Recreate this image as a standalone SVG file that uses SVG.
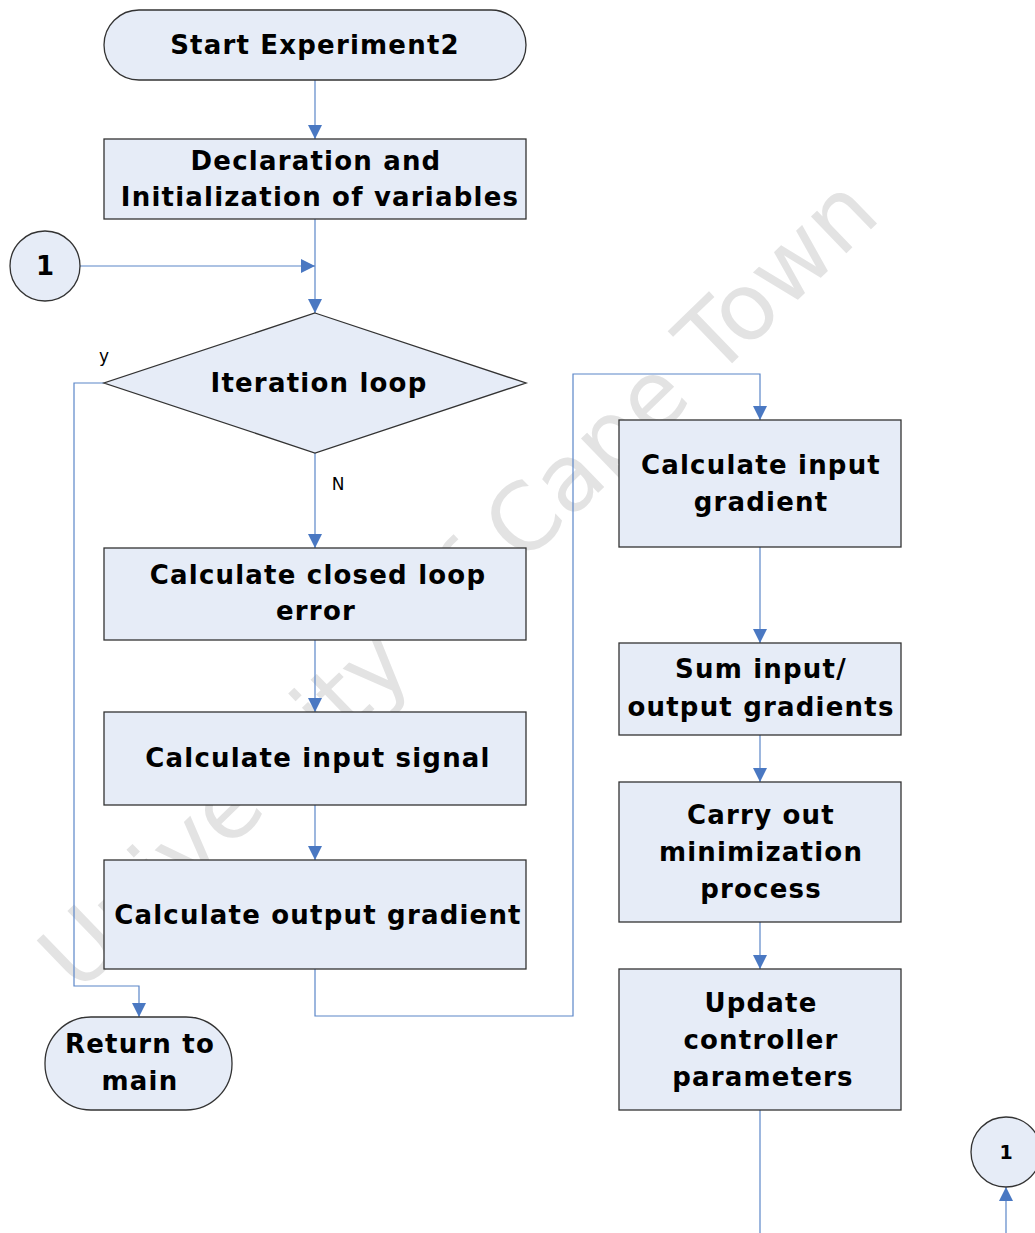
<svg xmlns="http://www.w3.org/2000/svg" width="1035" height="1233" viewBox="0 0 1035 1233">
<defs>
<marker id="arr" viewBox="0 0 10 10" refX="10" refY="5" markerWidth="14" markerHeight="14" markerUnits="userSpaceOnUse" orient="auto">
<path d="M0,0 L10,5 L0,10 z" fill="#4a78c2"/>
</marker>
<style>
.box{fill:#e6ecf7;stroke:#333;stroke-width:1.3}
.t{font-family:"DejaVu Sans",Verdana,sans-serif;font-weight:bold;font-size:26px;letter-spacing:1.2px;fill:#000;text-anchor:middle;dominant-baseline:central}
.lbl{font-family:"DejaVu Sans",Verdana,sans-serif;font-size:17px;fill:#000;text-anchor:middle;dominant-baseline:central}
.c{fill:none;stroke:#5b86c8;stroke-width:1.2}
.wm{font-family:"DejaVu Sans",Verdana,sans-serif;font-size:93px;fill:#e3e3e3}
</style>
</defs>
<rect width="1035" height="1233" fill="#fff"/>
<text class="wm" transform="translate(78,995) rotate(-44)">University of Cape Town</text>
<g id="connectors">
<line class="c" x1="315" y1="80" x2="315" y2="139" marker-end="url(#arr)"/>
<line class="c" x1="315" y1="219" x2="315" y2="313" marker-end="url(#arr)"/>
<line class="c" x1="80" y1="266" x2="315" y2="266" marker-end="url(#arr)"/>
<polyline class="c" points="104,383 74,383 74,986 139,986 139,1017" marker-end="url(#arr)"/>
<line class="c" x1="315" y1="453" x2="315" y2="548" marker-end="url(#arr)"/>
<line class="c" x1="315" y1="640" x2="315" y2="712" marker-end="url(#arr)"/>
<line class="c" x1="315" y1="805" x2="315" y2="860" marker-end="url(#arr)"/>
<polyline class="c" points="315,969 315,1016 573,1016 573,374 760,374 760,420" marker-end="url(#arr)"/>
<line class="c" x1="760" y1="547" x2="760" y2="643" marker-end="url(#arr)"/>
<line class="c" x1="760" y1="735" x2="760" y2="782" marker-end="url(#arr)"/>
<line class="c" x1="760" y1="922" x2="760" y2="969" marker-end="url(#arr)"/>
<line class="c" x1="760" y1="1110" x2="760" y2="1233"/>
<line class="c" x1="1006" y1="1233" x2="1006" y2="1187" marker-end="url(#arr)"/>
<text class="lbl" x="104" y="356">y</text>
<text class="lbl" x="338" y="484">N</text>
</g>
<g id="start">
<rect class="box" x="104" y="10" width="422" height="70" rx="35"/>
<text class="t" x="315" y="45">Start Experiment2</text>
</g>
<g id="declare">
<rect class="box" x="104" y="139" width="422" height="80"/>
<text class="t" x="316" y="161">Declaration and</text>
<text class="t" x="320" y="197">Initialization of variables</text>
</g>
<g id="conn1">
<circle class="box" cx="45" cy="266" r="35"/>
<text class="t" x="45" y="266" style="letter-spacing:0">1</text>
</g>
<g id="iter">
<polygon class="box" points="315,313 526,383 315,453 104,383"/>
<text class="t" x="319" y="383">Iteration loop</text>
</g>
<g id="error">
<rect class="box" x="104" y="548" width="422" height="92"/>
<text class="t" x="318" y="575">Calculate closed loop</text>
<text class="t" x="316" y="611">error</text>
</g>
<g id="signal">
<rect class="box" x="104" y="712" width="422" height="93"/>
<text class="t" x="318" y="758">Calculate input signal</text>
</g>
<g id="outgrad">
<rect class="box" x="104" y="860" width="422" height="109"/>
<text class="t" x="318" y="915">Calculate output gradient</text>
</g>
<g id="ret">
<rect class="box" x="45" y="1017" width="187" height="93" rx="46"/>
<text class="t" x="140" y="1044">Return to</text>
<text class="t" x="140" y="1081">main</text>
</g>
<g id="ingrad">
<rect class="box" x="619" y="420" width="282" height="127"/>
<text class="t" x="761" y="465">Calculate input</text>
<text class="t" x="761" y="502">gradient</text>
</g>
<g id="sum">
<rect class="box" x="619" y="643" width="282" height="92"/>
<text class="t" x="761" y="669">Sum input/</text>
<text class="t" x="761" y="707">output gradients</text>
</g>
<g id="min">
<rect class="box" x="619" y="782" width="282" height="140"/>
<text class="t" x="761" y="815">Carry out</text>
<text class="t" x="761" y="852">minimization</text>
<text class="t" x="761" y="889">process</text>
</g>
<g id="update">
<rect class="box" x="619" y="969" width="282" height="141"/>
<text class="t" x="761" y="1003">Update</text>
<text class="t" x="761" y="1040">controller</text>
<text class="t" x="763" y="1077">parameters</text>
</g>
<g id="conn1b">
<circle class="box" cx="1006" cy="1152" r="35"/>
<text class="t" x="1006" y="1152" style="font-size:19px;letter-spacing:0">1</text>
</g>
</svg>
